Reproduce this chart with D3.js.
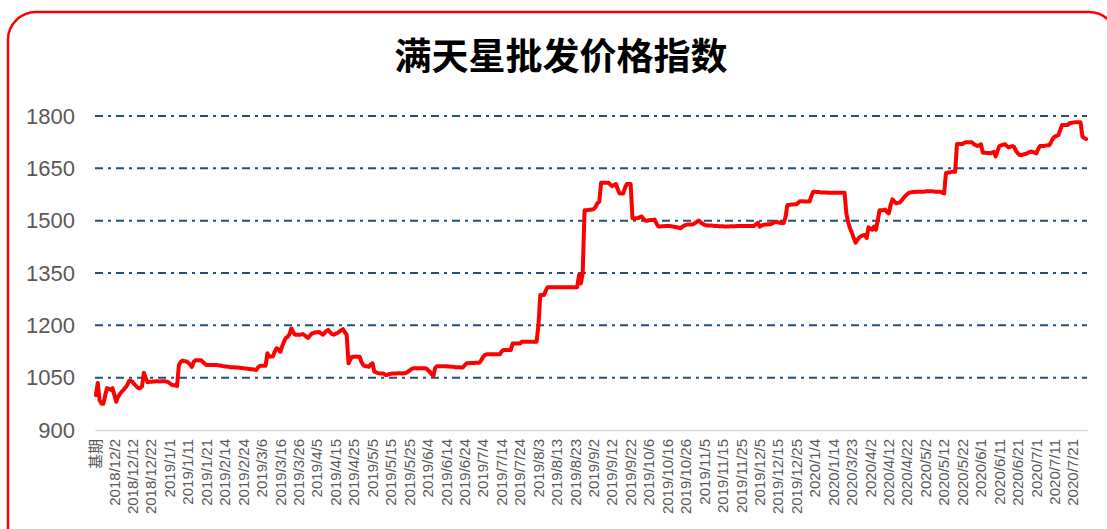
<!DOCTYPE html>
<html>
<head>
<meta charset="utf-8">
<script src="https://cdn.jsdelivr.net/npm/d3@7"></script>
<style>
  body { margin: 0; background: #fff; }
  svg { display: block; }
</style>
</head>
<body>
<svg width="1107" height="529"></svg>
<script>
// tick labels, one every 10 trading days
const tickLabels = [
  "基期", "2018/12/2", "2018/12/12", "2018/12/22", "2019/1/1", "2019/1/11", "2019/1/21",
  "2019/2/14", "2019/2/24", "2019/3/6", "2019/3/16", "2019/3/26", "2019/4/5", "2019/4/15",
  "2019/4/25", "2019/5/5", "2019/5/15", "2019/5/25", "2019/6/4", "2019/6/14", "2019/6/24",
  "2019/7/4", "2019/7/14", "2019/7/24", "2019/8/3", "2019/8/13", "2019/8/23", "2019/9/2",
  "2019/9/12", "2019/9/22", "2019/10/6", "2019/10/16", "2019/10/26", "2019/11/5", "2019/11/15",
  "2019/11/25", "2019/12/5", "2019/12/15", "2019/12/25", "2020/1/4", "2020/1/14", "2020/3/23",
  "2020/4/2", "2020/4/12", "2020/4/22", "2020/5/2", "2020/5/12", "2020/5/22", "2020/6/1",
  "2020/6/11", "2020/6/21", "2020/7/1", "2020/7/11", "2020/7/21"
];

// index values, one per day (rows of 10 = one tick label each)
const indexValues = [
  1000, 1035, 985, 976, 975, 998, 1020, 1018, 1015, 1020,
  1000, 981, 995, 1003, 1010, 1015, 1022, 1029, 1041, 1041,
  1037, 1030, 1025, 1020, 1020, 1025, 1064, 1050, 1037, 1038,
  1038, 1039, 1039, 1040, 1039, 1039, 1040, 1040, 1039, 1038,
  1034, 1030, 1028, 1028, 1026, 1086, 1095, 1099, 1097, 1097,
  1093, 1088, 1081, 1095, 1100, 1100, 1100, 1100, 1095, 1090,
  1086, 1086, 1086, 1086, 1086, 1086, 1086, 1085, 1084, 1083,
  1082, 1082, 1081, 1080, 1080, 1080, 1079, 1079, 1078, 1078,
  1077, 1076, 1076, 1075, 1074, 1074, 1073, 1072, 1080, 1084,
  1084, 1084, 1084, 1120, 1111, 1111, 1111, 1125, 1134, 1132,
  1124, 1140, 1153, 1164, 1167, 1175, 1191, 1180, 1173, 1173,
  1173, 1173, 1175, 1172, 1168, 1164, 1170, 1176, 1178, 1180,
  1180, 1181, 1177, 1173, 1178, 1184, 1187, 1180, 1175, 1173,
  1176, 1178, 1182, 1186, 1189, 1180, 1173, 1091, 1103, 1110,
  1110, 1110, 1110, 1110, 1095, 1086, 1083, 1083, 1081, 1088,
  1091, 1067, 1065, 1063, 1062, 1062, 1062, 1058, 1058, 1060,
  1061, 1062, 1062, 1062, 1063, 1063, 1062, 1063, 1063, 1066,
  1070, 1074, 1077, 1077, 1077, 1077, 1077, 1077, 1077, 1077,
  1072, 1067, 1060, 1055, 1078, 1083, 1083, 1083, 1083, 1083,
  1083, 1082, 1082, 1081, 1081, 1080, 1080, 1080, 1079, 1079,
  1086, 1091, 1091, 1092, 1092, 1092, 1093, 1093, 1093, 1100,
  1110, 1115, 1117, 1117, 1117, 1117, 1117, 1117, 1117, 1117,
  1125, 1129, 1129, 1129, 1129, 1129, 1148, 1148, 1148, 1148,
  1148, 1153, 1153, 1153, 1153, 1153, 1153, 1153, 1153, 1153,
  1200, 1287, 1287, 1287, 1300, 1309, 1309, 1309, 1309, 1309,
  1309, 1309, 1309, 1309, 1309, 1309, 1309, 1309, 1309, 1309,
  1309, 1309, 1344, 1320, 1349, 1530, 1530, 1531, 1531, 1532,
  1533, 1540, 1550, 1555, 1609, 1609, 1609, 1609, 1609, 1603,
  1599, 1602, 1605, 1590, 1578, 1578, 1578, 1595, 1605, 1605,
  1605, 1507, 1507, 1507, 1507, 1510, 1512, 1505, 1500, 1500,
  1501, 1502, 1502, 1503, 1492, 1483, 1483, 1484, 1484, 1485,
  1485, 1485, 1484, 1483, 1482, 1481, 1480, 1478, 1482, 1486,
  1488, 1489, 1489, 1489, 1490, 1493, 1497, 1500, 1495, 1491,
  1488, 1487, 1486, 1486, 1486, 1485, 1485, 1485, 1484, 1484,
  1484, 1483, 1483, 1483, 1484, 1484, 1484, 1484, 1485, 1485,
  1485, 1485, 1485, 1485, 1485, 1485, 1485, 1485, 1490, 1494,
  1483, 1486, 1488, 1489, 1489, 1490, 1490, 1493, 1495, 1497,
  1495, 1494, 1493, 1493, 1510, 1545, 1545, 1546, 1546, 1547,
  1547, 1552, 1556, 1556, 1555, 1555, 1555, 1555, 1570, 1583,
  1583, 1582, 1582, 1581, 1581, 1581, 1581, 1580, 1580, 1580,
  1580, 1580, 1580, 1580, 1580, 1580, 1580, 1520, 1495, 1478,
  1465, 1450, 1437, 1445, 1452, 1456, 1458, 1459, 1450, 1481,
  1477, 1474, 1483, 1474, 1500, 1530, 1530, 1530, 1532, 1525,
  1521, 1545, 1561, 1555, 1550, 1551, 1552, 1558, 1565, 1571,
  1576, 1580, 1581, 1582, 1582, 1583, 1583, 1583, 1583, 1583,
  1584, 1584, 1584, 1584, 1584, 1583, 1583, 1583, 1583, 1580,
  1578, 1636, 1638, 1638, 1640, 1640, 1640, 1720, 1720, 1720,
  1720, 1723, 1725, 1725, 1725, 1725, 1720, 1717, 1714, 1716,
  1719, 1695, 1695, 1694, 1694, 1693, 1695, 1697, 1684, 1700,
  1714, 1716, 1718, 1719, 1714, 1710, 1712, 1714, 1711, 1700,
  1693, 1688, 1688, 1690, 1691, 1693, 1696, 1698, 1697, 1695,
  1693, 1705, 1714, 1714, 1714, 1715, 1716, 1716, 1725, 1735,
  1741, 1743, 1745, 1760, 1774, 1774, 1774, 1774, 1779, 1780,
  1781, 1782, 1782, 1782, 1782, 1741, 1737, 1734
];

const yTicks = [900, 1050, 1200, 1350, 1500, 1650, 1800];
const labelEvery = 10;

const svg = d3.select("svg"),
      margin = {top: 116, right: 20, bottom: 99, left: 95},
      width = +svg.attr("width") - margin.left - margin.right,
      height = +svg.attr("height") - margin.top - margin.bottom;

// red rounded frame
svg.append("rect")
  .attr("x", 8)
  .attr("y", 12)
  .attr("width", 1109)
  .attr("height", 560)
  .attr("rx", 28)
  .attr("fill", "none")
  .attr("stroke", "#ff0000")
  .attr("stroke-width", 2.5);

svg.append("text")
  .attr("x", 561)
  .attr("y", 70)
  .attr("text-anchor", "middle")
  .style("font-family", "'Noto Sans CJK SC', sans-serif")
  .style("font-size", "37px")
  .style("font-weight", "bold")
  .style("fill", "#000")
  .text("满天星批发价格指数");

const g = svg.append("g").attr("transform", `translate(${margin.left},${margin.top})`);

const idx = indexValues.map((v, i) => i);

const x = d3.scaleBand()
  .domain(idx)
  .range([0, 992]);

const y = d3.scaleLinear()
  .domain([900, 1800])
  .range([314, 0]);

// gridlines (dash-dot)
g.append("g")
  .selectAll("line")
  .data(yTicks.filter(d => d > 900))
  .join("line")
  .attr("x1", 0)
  .attr("x2", 992)
  .attr("y1", d => y(d))
  .attr("y2", d => y(d))
  .attr("stroke", "#24507c")
  .attr("stroke-width", 2)
  .style("stroke-dasharray", "8,5,3,5");

// Y-axis labels
const yAxis = g.append("g")
  .call(d3.axisLeft(y).tickValues(yTicks).tickSize(0).tickPadding(20).tickFormat(d3.format("d")));
yAxis.select(".domain").remove();
yAxis.selectAll("text")
  .style("font-family", "'Liberation Sans', Arial, sans-serif")
  .style("font-size", "22px")
  .style("fill", "#595959");

// X-axis
const xAxis = g.append("g")
  .attr("transform", `translate(0,${y(900)})`)
  .call(d3.axisBottom(x)
    .tickValues(idx.filter(i => i % labelEvery === 0))
    .tickSize(0)
    .tickFormat(i => tickLabels[i / labelEvery]));
xAxis.select(".domain")
  .attr("stroke", "#d9d9d9")
  .attr("stroke-width", 1.5);
xAxis.selectAll("text")
  .attr("transform", "rotate(-90)")
  .attr("x", -9)
  .attr("y", 0)
  .attr("dy", "0.35em")
  .style("text-anchor", "end")
  .style("font-family", "'Liberation Sans', Arial, 'Noto Sans CJK SC', sans-serif")
  .style("font-size", "15px")
  .style("fill", "#595959");

// index line
const line = d3.line()
  .x((d, i) => x(i) + x.bandwidth() / 2)
  .y(d => y(d));

g.append("path")
  .datum(indexValues)
  .attr("fill", "none")
  .attr("d", line)
  .attr("stroke", "#ff0000")
  .attr("stroke-width", 4)
  .attr("stroke-linejoin", "round")
  .attr("stroke-linecap", "round");
</script>
</body>
</html>
